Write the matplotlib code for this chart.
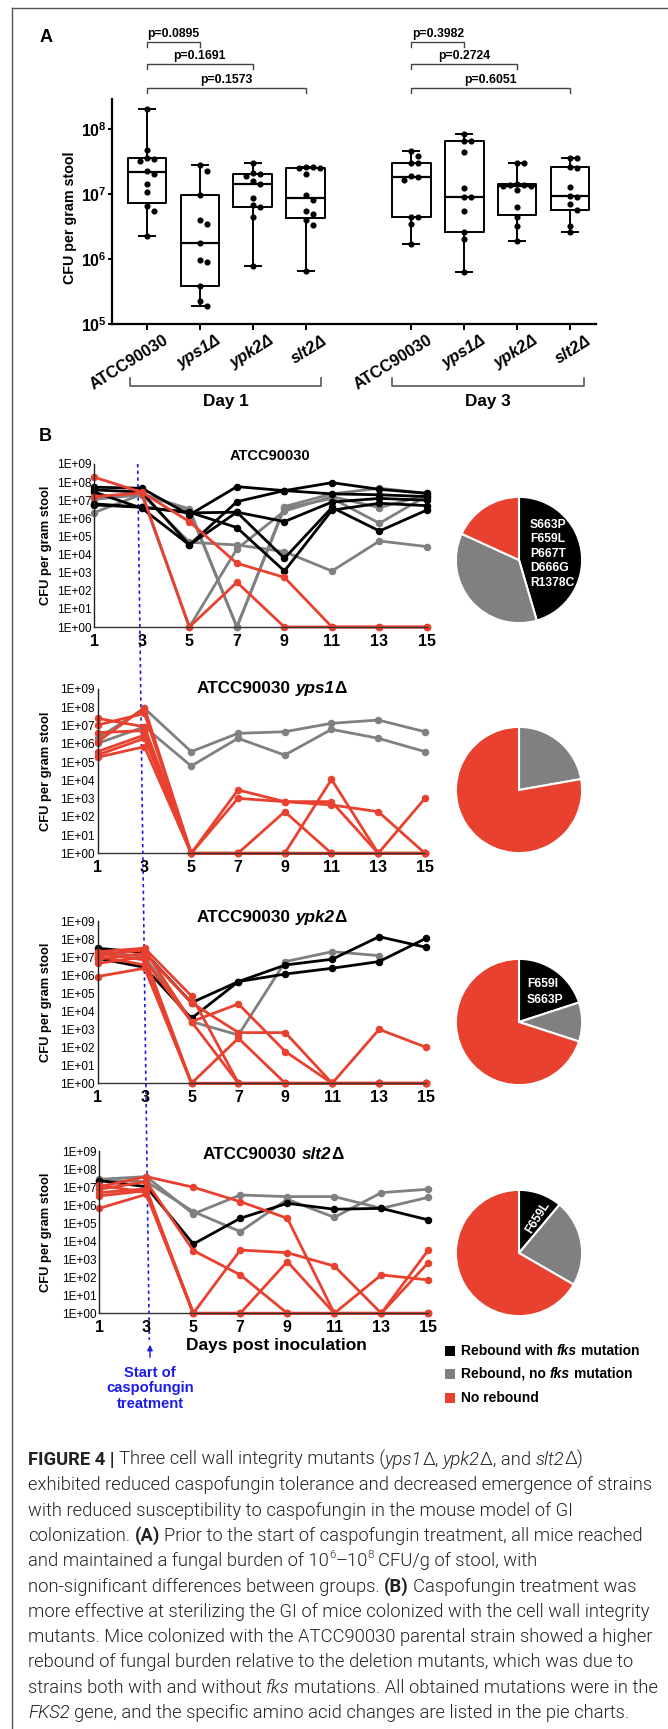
import numpy as np
import matplotlib
matplotlib.use('Agg')
import matplotlib.pyplot as plt
from matplotlib import font_manager, transforms
from matplotlib.font_manager import FontProperties
from matplotlib.lines import Line2D
from matplotlib.patches import Rectangle, FancyArrowPatch
from matplotlib.ticker import NullLocator

W, H = 668, 1729

fonts = font_manager.fontManager.ttflist
has_roboto_light = any(f.name == 'Roboto' and f.weight in (300, 'light') for f in fonts)
CAP_FAMILY = ['Roboto', 'DejaVu Sans'] if has_roboto_light else ['Liberation Sans', 'DejaVu Sans']
CAP_WEIGHT = 300 if has_roboto_light else 'normal'

plt.rcParams['font.family'] = ['Liberation Sans', 'DejaVu Sans']
plt.rcParams['mathtext.fontset'] = 'custom'
plt.rcParams['mathtext.rm'] = 'Liberation Sans'
plt.rcParams['mathtext.bf'] = 'Liberation Sans:bold'
plt.rcParams['mathtext.it'] = 'Liberation Sans:italic'

RED = '#e8412f'
GREY = '#808080'
BLACK = '#000000'
BLUE = '#1c1ce6'

# ---------------- Panel A: log10 CFU per gram stool ----------------
a_labels = ['ATCC90030', 'yps1\u0394', 'ypk2\u0394', 'slt2\u0394']
a_day1_atcc = [8.31, 7.68, 7.55, 7.54, 7.51, 7.31, 7.36, 7.15, 7.03, 6.81, 6.74, 6.35]
a_day1_yps1 = [7.44, 7.36, 6.98, 6.60, 6.54, 6.24, 5.98, 5.96, 5.59, 5.36, 5.28]
a_day1_ypk2 = [7.48, 7.32, 7.30, 7.27, 7.20, 7.15, 6.93, 6.83, 6.80, 6.64, 5.89]
a_day1_slt2 = [7.41, 7.41, 7.40, 7.40, 7.31, 6.98, 6.90, 6.74, 6.69, 6.60, 6.52, 5.81]
a_day3_atcc = [7.66, 7.59, 7.48, 7.48, 7.27, 7.26, 7.21, 6.65, 6.64, 6.54, 6.23]
a_day3_yps1 = [7.92, 7.82, 7.82, 7.64, 7.09, 6.96, 6.96, 6.74, 6.42, 6.30, 5.80]
a_day3_ypk2 = [7.47, 7.47, 7.16, 7.14, 7.13, 7.12, 7.12, 7.06, 6.80, 6.64, 6.51, 6.28]
a_day3_slt2 = [7.55, 7.55, 7.41, 7.40, 7.11, 6.97, 6.96, 6.84, 6.76, 6.51, 6.41]
a_pvals_day1 = ['p=0.0895', 'p=0.1691', 'p=0.1573']
a_pvals_day3 = ['p=0.3982', 'p=0.2724', 'p=0.6051']

# ---------------- Panel B: log10 CFU per gram stool per mouse ----------------
days_b = [1, 3, 5, 7, 9, 11, 13, 15]

atcc_black = [[7.72, 7.66, 6.19, 7.75, 7.53, 7.97, 7.60, 7.38],
              [7.57, 7.45, 4.53, 6.92, 7.53, 7.35, 7.30, 7.20],
              [6.74, 6.61, 6.34, 5.49, 3.09, 6.45, 6.83, 6.70],
              [7.45, 6.56, 4.53, 6.34, 3.79, 6.60, 5.30, 6.46],
              [6.80, 6.62, 6.30, 6.34, 5.82, 6.90, 7.10, 7.00]]
atcc_grey = [[6.32, 7.33, 6.52, 0.00, 6.65, 7.35, 7.66, 7.38],
             [7.15, 7.33, 4.68, 4.53, 4.16, 3.09, 4.75, 4.44],
             [7.05, 7.30, 0.00, 4.31, 6.40, 7.20, 6.59, 7.30],
             [7.10, 7.35, 6.45, 0.00, 6.55, 7.10, 5.73, 7.25]]
atcc_red = [[8.27, 7.44, 5.82, 3.52, 2.74, 0, 0, 0],
            [7.20, 7.40, 0, 2.47, 0, 0, 0, 0]]

yps1_black = []
yps1_grey = [[6.30, 7.94, 5.57, 6.57, 6.66, 7.12, 7.30, 6.66],
             [6.02, 6.93, 4.78, 6.30, 5.38, 6.79, 6.30, 5.57]]
yps1_red = [[7.39, 6.93, 0, 3.47, 2.83, 2.83, 0, 0],
            [7.03, 7.66, 0, 3.01, 2.83, 2.65, 2.28, 0],
            [6.61, 6.72, 0, 0, 2.28, 0, 0, 0],
            [6.11, 7.97, 0, 0, 0, 4.05, 0, 0],
            [5.57, 6.48, 0, 0, 0, 0, 0, 3.01],
            [5.38, 6.30, 0, 0, 0, 0, 0, 0],
            [5.26, 5.84, 0, 0, 0, 0, 0, 0]]

ypk2_black = [[7.49, 7.25, 4.47, 5.64, 6.56, 6.88, 8.13, 7.54],
              [6.93, 6.43, 3.60, 5.64, 6.06, 6.38, 6.75, 8.04]]
ypk2_grey = [[7.30, 7.02, 3.42, 2.68, 6.75, 7.30, 7.08, np.nan]]
ypk2_red = [[7.30, 7.49, 4.84, 0, 0, 0, 0, 0],
            [7.12, 7.39, 3.42, 4.40, 1.76, 0, 0, 0],
            [6.88, 7.21, 4.47, 2.81, 2.81, 0, 0, 0],
            [6.65, 7.02, 0, 2.50, 0, 0, 2.99, 2.00],
            [5.92, 6.38, 0, 0, 0, 0, 0, 0],
            [7.20, 6.84, 3.42, 0, 0, 0, 0, 0],
            [7.05, 6.56, 0, 0, 0, 0, 0, 0]]

slt2_black = [[7.36, 7.02, 3.84, 5.27, 6.10, 5.77, 5.82, 5.18]]
slt2_grey = [[7.43, 7.58, 5.51, 6.56, 6.47, 6.47, 5.82, 6.43],
             [7.39, 7.30, 5.64, 4.53, 6.32, 5.32, 6.69, 6.88]]
slt2_red = [[7.02, 7.58, 6.99, 6.19, 5.27, 0, 0, 0],
            [6.88, 7.30, 3.48, 2.13, 0, 0, 0, 0],
            [6.69, 6.90, 0, 3.51, 3.36, 2.62, 0, 2.81],
            [6.51, 6.80, 0, 0, 2.87, 0, 2.13, 1.85],
            [5.82, 6.60, 0, 0, 0, 0, 0, 3.51],
            [7.10, 6.70, 0, 0, 0, 0, 0, 0]]

# pie counts: rebound with fks, rebound no fks, no rebound
atcc_pie = [5, 4, 2]
yps1_pie = [0, 2, 7]
ypk2_pie = [2, 1, 7]
slt2_pie = [1, 2, 6]
atcc_mut = ['S663P', 'F659L', 'P667T', 'D666G', 'R1378C']
ypk2_mut = ['F659I', 'S663P']
slt2_mut = ['F659L']

legend_rows = [[('Rebound with ', 'b'), ('fks', 'bi'), (' mutation', 'b')],
               [('Rebound, no ', 'b'), ('fks', 'bi'), (' mutation', 'b')],
               [('No rebound', 'b')]]

caption_lines = [
    [('FIGURE 4 |', 'b'), (' Three cell wall integrity mutants (', 'n'), ('yps1', 'i'), ('\u0394, ', 'n'),
     ('ypk2', 'i'), ('\u0394, and ', 'n'), ('slt2', 'i'), ('\u0394)', 'n')],
    [('exhibited reduced caspofungin tolerance and decreased emergence of strains', 'n')],
    [('with reduced susceptibility to caspofungin in the mouse model of GI', 'n')],
    [('colonization. ', 'n'), ('(A)', 'b'), (' Prior to the start of caspofungin treatment, all mice reached', 'n')],
    [('and maintained a fungal burden of 10', 'n'), ('6', 'sup'), ('\u201310', 'n'), ('8', 'sup'),
     (' CFU/g of stool, with', 'n')],
    [('non-significant differences between groups. ', 'n'), ('(B)', 'b'), (' Caspofungin treatment was', 'n')],
    [('more effective at sterilizing the GI of mice colonized with the cell wall integrity', 'n')],
    [('mutants. Mice colonized with the ATCC90030 parental strain showed a higher', 'n')],
    [('rebound of fungal burden relative to the deletion mutants, which was due to', 'n')],
    [('strains both with and without ', 'n'), ('fks', 'i'), (' mutations. All obtained mutations were in the', 'n')],
    [('FKS2', 'i'), (' gene, and the specific amino acid changes are listed in the pie charts.', 'n')],
]

fig = plt.figure(figsize=(W / 100, H / 100), dpi=100)
renderer = fig.canvas.get_renderer()


def fx(x):
    return x / W


def fy(y):
    return 1 - y / H


def add_ax(l, t, r, b):
    return fig.add_axes([l / W, 1 - b / H, (r - l) / W, (b - t) / H])


def make_prop(kind, size, family, normal_weight='normal'):
    weight = 'bold' if kind in ('b', 'bi') else normal_weight
    style = 'italic' if kind in ('i', 'bi') else 'normal'
    return FontProperties(family=family, size=size, weight=weight, style=style)


def seg_width(s, prop):
    w1 = renderer.get_text_width_height_descent('|' + s + '|', prop, ismath=False)[0]
    w0 = renderer.get_text_width_height_descent('||', prop, ismath=False)[0]
    return w1 - w0


def draw_segments(x0, yb, segs, size, family, color='black', align='left', normal_weight='normal'):
    items = []
    for text, kind in segs:
        sz = size * 0.62 if kind == 'sup' else size
        prop = make_prop(kind, sz, family, normal_weight)
        items.append((text, kind, prop, seg_width(text, prop)))
    total = sum(it[3] for it in items)
    x = x0 - total / 2 if align == 'center' else x0
    for text, kind, prop, w in items:
        lead = len(text) - len(text.lstrip(' '))
        dx = seg_width(' ' * lead, prop) if lead else 0
        dy = size * 1.389 * 0.42 if kind == 'sup' else 0
        if text.strip():
            fig.text(fx(x + dx), fy(yb - dy), text.strip(), fontproperties=prop,
                     color=color, ha='left', va='baseline')
        x += w
    return total


# ---------------- frame ----------------
fig.add_artist(Line2D([fx(12), fx(668)], [fy(8), fy(8)], color='#555555', lw=1.0))
fig.add_artist(Line2D([fx(12), fx(12)], [fy(8), fy(1729)], color='#555555', lw=1.0))

# ---------------- Panel A ----------------
fig.text(fx(40), fy(42), 'A', fontsize=13, weight='bold', ha='left', va='baseline')
axA = add_ax(112, 99, 596, 324)
axA.set_yscale('log')
a_data = [a_day1_atcc, a_day1_yps1, a_day1_ypk2, a_day1_slt2,
          a_day3_atcc, a_day3_yps1, a_day3_ypk2, a_day3_slt2]
a_pos = [0, 1, 2, 3, 5, 6, 7, 8]
stats = []
for vals in a_data:
    v = np.array(vals)
    q1, med, q3 = np.percentile(v, [25, 50, 75], method='weibull')
    stats.append(dict(med=10 ** med, q1=10 ** q1, q3=10 ** q3,
                      whislo=10 ** v.min(), whishi=10 ** v.max(), fliers=[]))
lp = dict(color='black', lw=1.4)
axA.bxp(stats, positions=a_pos, widths=0.73, capwidths=0.3, showfliers=False,
        boxprops=lp, whiskerprops=lp, capprops=lp, medianprops=dict(color='black', lw=1.6))

# simple swarm layout for the dots
px_unit, px_dec = 52.9, 65.0
for vals, c in zip(a_data, a_pos):
    v = np.array(vals)
    placed = []
    xs = np.zeros(len(v))
    for i in np.argsort(-v):
        y = v[i] * px_dec
        for k in [0, 1, -1, 2, -2, 3, -3, 4, -4]:
            x = k * 7.0
            if all((x - a) ** 2 + (y - b) ** 2 >= 5.5 ** 2 for a, b in placed):
                break
        placed.append((x, y))
        xs[i] = c + x / px_unit
    axA.plot(xs, 10 ** v, 'o', color='black', ms=3.4, zorder=5, clip_on=False)

axA.set_xlim(-0.66, 8.49)
axA.set_ylim(1e5, 10 ** 8.46)
axA.yaxis.set_minor_locator(NullLocator())
axA.set_yticks([1e5, 1e6, 1e7, 1e8])
axA.set_yticklabels([r'$\mathbf{10^{%d}}$' % k for k in (5, 6, 7, 8)])
axA.tick_params(axis='y', length=3, width=1.4, pad=1, labelsize=11.5)
axA.set_xticks(a_pos)
axA.set_xticklabels(a_labels * 2, rotation=32, ha='right', va='center',
                    rotation_mode='anchor', fontsize=11.8, weight='bold')
axA.tick_params(axis='x', length=4, width=1.4, pad=7)
shift = transforms.ScaledTranslation(0.2, 0, fig.dpi_scale_trans)
for i, lbl in enumerate(axA.get_xticklabels()):
    lbl.set_transform(lbl.get_transform() + shift)
    if i % 4:
        lbl.set_fontstyle('italic')
for s in ('top', 'right'):
    axA.spines[s].set_visible(False)
for s in ('left', 'bottom'):
    axA.spines[s].set_linewidth(1.6)
fig.text(fx(70), fy(218), 'CFU per gram stool', rotation=90, ha='center', va='center',
         fontsize=10.3, weight='bold')

# brackets with p-values (x in category units)
trA = transforms.blended_transform_factory(axA.transData, fig.transFigure)
bracket_y = [42, 64, 88]
for base, pvals in ((0, a_pvals_day1), (5, a_pvals_day3)):
    for j, (p, by) in enumerate(zip(pvals, bracket_y)):
        x0, x1 = base, base + j + 1
        fig.add_artist(Line2D([x0, x0, x1, x1], [fy(by + 5), fy(by), fy(by), fy(by + 5)],
                              transform=trA, color='#444444', lw=1.0))
        fig.text((x0 + x1) / 2, fy(by - 5), p, transform=trA, ha='center', va='baseline',
                 fontsize=8.8, weight='bold')
for lo, hi, name in ((-0.32, 3.29, 'Day 1'), (4.63, 8.26, 'Day 3')):
    fig.add_artist(Line2D([lo, lo, hi, hi], [fy(378), fy(386), fy(386), fy(378)],
                          transform=trA, color='#555555', lw=1.2))
    fig.text((lo + hi) / 2, fy(406), name, transform=trA, ha='center', va='baseline',
             fontsize=12.3, weight='bold')

# ---------------- Panel B ----------------
fig.text(fx(39), fy(441), 'B', fontsize=13, weight='bold', ha='left', va='baseline')

# caspofungin start line across the panels
fig.add_artist(Line2D([fx(137.7), fx(149.3)], [fy(464), fy(1340)], color=BLUE, lw=1.2,
                      ls=(0, (2, 2)), zorder=-1))


def line_panel(l, t, r, b, black, grey, red, title_segs, title_x, title_y, title_size):
    ax = add_ax(l, t, r, b)
    ax.patch.set_visible(False)
    for group, color in ((grey, GREY), (black, BLACK), (red, RED)):
        for vals in group:
            ax.plot(days_b, 10 ** np.array(vals, float), color=color, lw=2.0, marker='o', ms=4.4,
                    clip_on=False, solid_joinstyle='round')
    ax.set_yscale('log')
    ax.set_ylim(1, 1e9)
    ax.set_xlim(1, 15)
    ax.yaxis.set_minor_locator(NullLocator())
    ax.set_yticks([10.0 ** k for k in range(10)])
    ax.set_yticklabels(['1E+%02d' % k for k in range(10)])
    ax.set_xticks(days_b)
    ax.set_xticklabels([str(d) for d in days_b])
    ax.tick_params(axis='y', length=0, pad=2, labelsize=8.5)
    ax.tick_params(axis='x', length=0, pad=5, labelsize=11.5)
    for lbl in ax.get_xticklabels():
        lbl.set_fontweight('bold')
    for s in ('top', 'right'):
        ax.spines[s].set_visible(False)
    ax.spines['left'].set_linewidth(1.0)
    ax.spines['left'].set_color('#222222')
    ax.spines['bottom'].set_linewidth(1.0)
    ax.spines['bottom'].set_color('#333333')
    fig.text(fx(46), fy((t + b) / 2), 'CFU per gram stool', rotation=90, ha='center', va='center',
             fontsize=9.3, weight='bold')
    draw_segments(title_x, title_y, title_segs, title_size, ['Liberation Sans', 'DejaVu Sans'],
                  align='center')
    return ax


line_panel(94.3, 464, 427, 627, atcc_black, atcc_grey, atcc_red,
           [('ATCC90030', 'b')], 270, 460, 10.5)
line_panel(97.7, 689, 425, 853.3, yps1_black, yps1_grey, yps1_red,
           [('ATCC90030 ', 'b'), ('yps1', 'bi'), ('\u0394', 'b')], 272, 693, 12.3)
line_panel(97.7, 921, 426, 1083.3, ypk2_black, ypk2_grey, ypk2_red,
           [('ATCC90030 ', 'b'), ('ypk2', 'bi'), ('\u0394', 'b')], 272, 922, 12.3)
line_panel(99.3, 1151, 428.3, 1313.3, slt2_black, slt2_grey, slt2_red,
           [('ATCC90030 ', 'b'), ('slt2', 'bi'), ('\u0394', 'b')], 273, 1159, 12.3)

fig.text(fx(276), fy(1350), 'Days post inoculation', ha='center', va='baseline',
         fontsize=12.5, weight='bold')

# start of treatment arrow and label
fig.add_artist(FancyArrowPatch((fx(150), fy(1360)), (fx(150), fy(1342)), transform=fig.transFigure,
                               arrowstyle='-|>', mutation_scale=8, color=BLUE, lw=1.0))
for txt, yb in (('Start of', 1377), ('caspofungin', 1392), ('treatment', 1408)):
    fig.text(fx(150), fy(yb), txt, ha='center', va='baseline', color=BLUE, fontsize=10.6,
             weight='bold')


def pie_panel(cx, cy, counts):
    ax = add_ax(cx - 65, cy - 65, cx + 65, cy + 65)
    ax.pie(counts, colors=[BLACK, GREY, RED], startangle=90, counterclock=False, radius=1,
           wedgeprops=dict(edgecolor='white', linewidth=1.5))
    ax.set_xlim(-1.03, 1.03)
    ax.set_ylim(-1.03, 1.03)
    return ax


pa = pie_panel(519, 560, atcc_pie)
for i, m in enumerate(atcc_mut):
    pa.text(0.175, 0.556 - i * 0.23, m, ha='left', va='center', color='white',
            fontsize=8.7, weight='bold')
pie_panel(519, 790, yps1_pie)
pk = pie_panel(519, 1022, ypk2_pie)
for i, m in enumerate(ypk2_mut):
    pk.text(0.127, 0.60 - i * 0.25, m, ha='left', va='center', color='white',
            fontsize=8.7, weight='bold')
ps = pie_panel(519, 1253, slt2_pie)
ps.text(0.30, 0.57, slt2_mut[0], ha='center', va='center', color='white', rotation=58,
        fontsize=8.7, weight='bold')

# legend
leg_colors = [BLACK, GREY, RED]
for row, col, yb in zip(legend_rows, leg_colors, (1355, 1378, 1402)):
    fig.add_artist(Rectangle((fx(445), fy(yb + 1)), 10 / W, 10 / H, transform=fig.transFigure,
                             facecolor=col, edgecolor='none'))
    draw_segments(461, yb, row, 10, ['Liberation Sans', 'DejaVu Sans'])

# caption
ref_prop = FontProperties(family=CAP_FAMILY, size=10, weight=CAP_WEIGHT)
cap_size = 10 * 624 / seg_width(caption_lines[1][0][0], ref_prop)
for k, segs in enumerate(caption_lines):
    draw_segments(28, 1465 + k * 25.3, segs, cap_size, CAP_FAMILY, color='#222222',
                  normal_weight=CAP_WEIGHT)

fig.savefig('out.png', dpi=100)
